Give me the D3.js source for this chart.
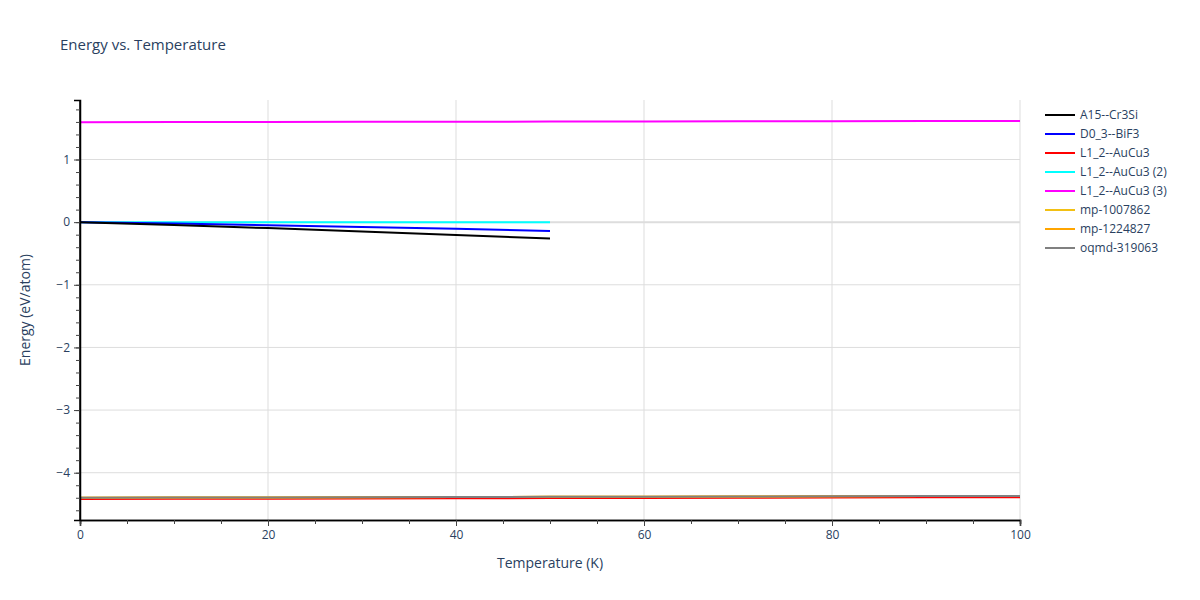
<!DOCTYPE html><html><head><meta charset="utf-8"><script src="https://cdn.jsdelivr.net/npm/d3@7"></script>
<style>body{margin:0;background:#fff}text{font-family:"Open Sans",sans-serif}</style></head><body><svg id="c" width="1200" height="600"></svg>
<script>
const temps = [0, 10, 20, 30, 40, 50, 60, 70, 80, 90, 100];
const seriesNames = ["A15--Cr3Si","D0_3--BiF3","L1_2--AuCu3","L1_2--AuCu3 (2)","L1_2--AuCu3 (3)","mp-1007862","mp-1224827","oqmd-319063"];
const colors = ["#000000","#0000ff","#ff0000","#00ffff","#ff00ff","#f2c014","#ffa500","#808080"];
const vA15 = [0,-0.045,-0.095,-0.15,-0.205,-0.26];
const vD03 = [0,-0.022,-0.048,-0.077,-0.107,-0.14];
const vL12 = [-4.42,-4.417,-4.414,-4.411,-4.408,-4.405,-4.402,-4.399,-4.396,-4.393,-4.39];
const vL12b = [0,0,0,0,0,0];
const vL12c = [1.595,1.597,1.599,1.601,1.603,1.605,1.607,1.609,1.611,1.613,1.615];
const vMp1 = [-4.40,-4.397,-4.394,-4.391,-4.388,-4.385,-4.382,-4.379,-4.376,-4.373,-4.37];
const vMp2 = [-4.40,-4.397,-4.394,-4.391,-4.388,-4.385,-4.382,-4.379,-4.376,-4.373,-4.37];
const vOq = [-4.40,-4.397,-4.394,-4.391,-4.388,-4.385,-4.382,-4.379,-4.376,-4.373,-4.37];
const allVals = [vA15,vD03,vL12,vL12b,vL12c,vMp1,vMp2,vOq];
const xTicks = [0,20,40,60,80,100];
const yTicks = [-4,-3,-2,-1,0,1];

const svg = d3.select("#c");
const L=80,R=1020,T=100,B=520;
const x = d3.scaleLinear().domain([0,100]).range([L,R]);
const y = d3.scaleLinear().domain([-4.755,1.95]).range([B,T]);
const tc="#2a3f5f";
svg.append("text").attr("x",60).attr("y",50).attr("font-size",15).attr("fill",tc).text("Energy vs. Temperature");
const g=svg.append("g");
xTicks.forEach(t=>g.append("line").attr("x1",x(t)).attr("x2",x(t)).attr("y1",T).attr("y2",B).attr("stroke","#ddd"));
yTicks.forEach(t=>g.append("line").attr("x1",L).attr("x2",R).attr("y1",y(t)).attr("y2",y(t)).attr("stroke","#ddd").attr("stroke-width",t===0?2:1));
const line=d3.line().x(d=>x(d[0])).y(d=>y(d[1]));
const order=[2,5,6,7,4,3,1,0];
order.forEach(i=>{
  const pts=allVals[i].map((v,j)=>[temps[j],v]);
  g.append("path").attr("d",line(pts)).attr("fill","none").attr("stroke",colors[i]).attr("stroke-width",2);
});
const xa=svg.append("g").attr("transform",`translate(0,${B})`).call(d3.axisBottom(x).tickValues(xTicks).tickSize(6).tickPadding(4));
const xm=svg.append("g").attr("transform",`translate(0,${B})`).call(d3.axisBottom(x).tickValues(d3.range(0,101,5)).tickSize(4).tickFormat(""));
const ya=svg.append("g").attr("transform",`translate(${L},0)`).call(d3.axisLeft(y).tickValues(yTicks).tickSize(6).tickPadding(4).tickFormat(d=>d<0?"−"+(-d):d));
const ym=svg.append("g").attr("transform",`translate(${L},0)`).call(d3.axisLeft(y).tickValues(d3.range(-4.6,1.95,0.2).map(v=>+v.toFixed(1))).tickSize(4).tickFormat(""));
[xa,xm,ya,ym].forEach(a=>{a.selectAll("path").attr("stroke","#000").attr("stroke-width",1.5);a.selectAll("line").attr("stroke","#444");a.selectAll("text").attr("font-size",12).attr("fill",tc).attr("font-family","Open Sans");});
ym.select("path").attr("d",`M-0,${B}V${T}`);
svg.append("text").attr("x",550).attr("y",568).attr("text-anchor","middle").attr("font-size",14).attr("fill",tc).text("Temperature (K)");
svg.append("text").attr("transform","translate(30,310) rotate(-90)").attr("text-anchor","middle").attr("font-size",14).attr("fill",tc).text("Energy (eV/atom)");
const lg=svg.append("g");
seriesNames.forEach((n,i)=>{
  const yy=115+i*19;
  lg.append("line").attr("x1",1045).attr("x2",1075).attr("y1",yy).attr("y2",yy).attr("stroke",colors[i]).attr("stroke-width",2);
  lg.append("text").attr("x",1080).attr("y",yy+4).attr("font-size",12).attr("fill",tc).text(n);
});
</script></body></html>
